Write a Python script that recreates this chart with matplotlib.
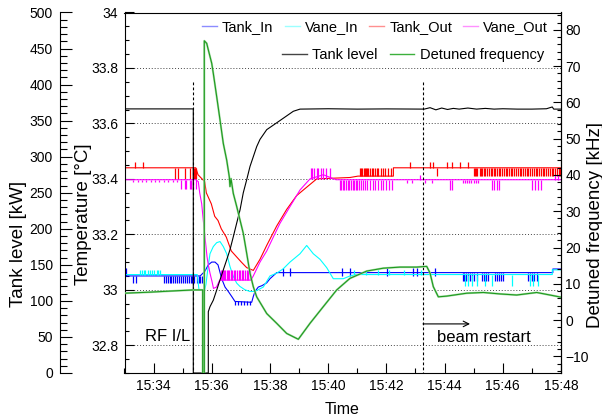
import matplotlib
matplotlib.use("Agg")
import matplotlib.pyplot as plt
from matplotlib.lines import Line2D
from matplotlib.ticker import MultipleLocator, FuncFormatter

# ========= CONFIG
plt.rcParams.update({
    "font.family": ["Liberation Sans", "DejaVu Sans"],
    "font.size": 10,
    "axes.linewidth": 0.8,
})

# ========= DATA (time = minutes after 15:00)

# Tank level [kW]
tank_level_t = [33.0, 35.364, 35.364, 35.880, 35.880, 35.938, 36.052, 36.168, 36.282, 36.395,
                36.512, 36.625, 36.739, 36.856, 36.969, 37.082, 37.199, 37.313, 37.426, 37.543,
                37.656, 37.887, 38.230, 38.801, 39.031, 40.0, 41.0, 42.0, 43.3, 43.5,
                43.7, 43.9, 44.1, 44.3, 44.5, 44.8, 45.1, 45.4, 45.7, 46.0,
                46.5, 47.0, 47.5, 47.7, 47.75, 47.8, 48.0]
tank_level_v = [366.3, 366.3, 0, 0, 85, 92, 101, 115, 129, 143,
                157, 171, 189, 208, 226, 250, 268, 286.5, 300, 314,
                324, 337.5, 347, 363, 366, 366.5, 366, 366.3, 366, 368,
                365, 367.5, 365.5, 367, 366, 367.5, 366, 367, 366, 366.5,
                366, 366, 366.5, 369, 366, 366, 366]

# Detuned frequency [kHz]
detuned_t = [33.0, 33.9, 34.6, 35.364, 35.687, 35.687, 35.742, 35.742, 35.825, 35.880,
             35.997, 36.052, 36.168, 36.282, 36.395, 36.512, 36.601, 36.625, 36.660, 36.739,
             36.856, 36.969, 37.082, 37.199, 37.313, 37.426, 37.543, 37.887, 38.230, 38.574,
             38.973, 39.375, 39.832, 40.292, 40.749, 41.323, 41.893, 42.467, 43.041, 43.385,
             43.498, 43.612, 43.784, 44.072, 44.759, 45.330, 45.904, 46.478, 47.165, 47.622,
             48.0]
detuned_v = [7.4, 7.7, 8.0, 8.3, 8.3, -20, -20, 77, 76.3, 74.5,
             70.8, 68, 61.6, 55.2, 48.7, 44.1, 39.5, 36.8, 39.0, 34.9,
             31.3, 27.6, 23.9, 18.4, 12.9, 9.2, 6.4, 1.8, -0.9, -3.7,
             -5.3, -0.9, 3.7, 8.3, 11.5, 13.5, 14.3, 14.6, 14.6, 14.8,
             13.0, 9.2, 6.4, 6.6, 7.4, 7.6, 7.2, 6.9, 7.6, 6.9,
             6.3]

# Temperatures [degC]
tank_in_t = [33.0, 35.6, 35.756, 35.880, 35.997, 36.110, 36.213, 36.340, 36.454, 36.567,
             36.684, 36.797, 37.371, 37.426, 37.485, 37.598, 37.725, 37.887, 38.0, 38.23,
             47.72, 47.72, 48.0]
tank_in_v = [33.05, 33.05, 33.066, 33.09, 33.10, 33.10, 33.09, 33.04, 33.01, 32.994,
             32.976, 32.958, 32.955, 32.976, 32.994, 33.01, 33.015, 33.025, 33.04, 33.062,
             33.062, 33.075, 33.075]

vane_in_t = [33.0, 35.50, 35.56, 35.756, 35.80, 35.869, 35.938, 36.052, 36.168, 36.282,
             36.395, 36.512, 36.625, 36.739, 36.856, 36.969, 37.141, 37.313, 37.485, 37.770,
             38.0, 38.230, 38.447, 38.687, 39.031, 39.261, 39.488, 39.718, 39.948, 40.175,
             40.519, 40.749, 40.955, 47.70, 47.70, 48.0]
vane_in_v = [33.055, 33.055, 33.0, 33.0, 33.02, 33.08, 33.13, 33.156, 33.17, 33.174,
             33.156, 33.13, 33.084, 33.048, 33.024, 33.012, 33.0, 32.994, 32.994, 33.01,
             33.05, 33.06, 33.075, 33.10, 33.13, 33.16, 33.13, 33.11, 33.08, 33.04,
             33.04, 33.05, 33.055, 33.055, 33.072, 33.072]

tank_out_t = [33.0, 35.45, 35.526, 35.756, 35.811, 35.983, 36.100, 36.213, 36.326, 36.498,
              36.670, 36.842, 37.014, 37.199, 37.426, 37.656, 37.887, 38.230, 38.574, 38.918,
              39.261, 39.605, 40.749, 41.024, 42.24, 42.24, 48.0]
tank_out_v = [33.44, 33.44, 33.415, 33.39, 33.35, 33.31, 33.265, 33.25, 33.22, 33.19,
              33.14, 33.12, 33.10, 33.08, 33.07, 33.11, 33.16, 33.23, 33.29, 33.34,
              33.37, 33.40, 33.405, 33.41, 33.41, 33.44, 33.44]

vane_out_t = [33.0, 35.45, 35.536, 35.584, 35.653, 35.708, 35.766, 35.835, 35.880, 35.938,
              36.007, 36.058, 36.162, 36.271, 37.347, 37.426, 37.656, 37.887, 38.113, 38.344,
              38.687, 39.031, 39.375, 39.832, 40.268, 48.0]
vane_out_v = [33.397, 33.397, 33.39, 33.35, 33.31, 33.25, 33.19, 33.12, 33.09, 33.06,
              33.03, 33.005, 33.01, 33.035, 33.035, 33.05, 33.10, 33.14, 33.19, 33.24,
              33.30, 33.36, 33.40, 33.415, 33.397, 33.397]

# single-sample glitches of the sensors: (times, low value, high value)
tank_in_spikes = [
    ([33.01, 33.06, 38.45, 38.69, 40.46, 40.75, 42.01, 42.91, 43.04, 43.67], 33.05, 33.08),
    ([33.29, 33.40, 34.35, 34.42, 34.48, 34.55, 34.60, 34.68, 34.75, 34.80, 34.88, 34.95,
      35.02, 35.08, 35.15, 35.20, 35.27, 35.33, 35.40, 35.48, 35.55, 35.60, 35.65], 33.025, 33.05),
    ([44.63, 44.68, 44.75, 44.80, 44.88, 44.95, 45.02, 45.10, 45.28, 45.35, 45.43, 45.50,
      45.73, 45.80, 45.88, 45.95, 46.00, 46.87, 46.93, 47.00, 47.08, 47.17], 33.03, 33.062),
    ([36.80, 36.90, 37.00, 37.10, 37.20, 37.30], 32.946, 32.958),
]
vane_in_spikes = [
    ([33.53, 33.60, 33.66, 33.72, 33.80, 33.88, 33.95, 34.02, 34.10, 34.16, 34.22,
      40.90, 41.30, 41.70, 42.10, 42.60, 43.20], 33.055, 33.072),
    ([44.70, 44.82, 44.95, 45.10, 45.40, 45.62, 46.30, 46.95, 47.05, 47.20], 33.012, 33.055),
]
tank_out_spikes = [
    ([33.36, 33.64, 42.81, 43.50, 43.60, 44.07, 44.24, 44.53, 44.82], 33.44, 33.46),
    ([34.73, 34.84, 35.07, 35.24, 35.35, 35.37, 35.40, 35.42, 35.44], 33.40, 33.44),
    ([41.10, 41.14, 41.17, 41.22, 41.26, 41.30, 41.34, 41.38, 41.45, 41.50, 41.55, 41.61,
      41.66, 41.72, 41.80, 41.88, 41.95, 42.05, 42.15], 33.41, 33.44),
    ([43.73, 45.00, 45.04, 45.09, 45.13, 45.20, 45.24, 45.29, 45.36, 45.40, 45.47, 45.52,
      45.58, 45.63, 45.70, 45.74, 45.80, 45.86, 45.92, 45.97, 46.05, 46.10, 46.15, 46.22,
      46.27, 46.33, 46.40, 46.45, 46.51, 46.58, 46.63, 46.70, 46.76, 46.82, 46.88, 46.95,
      47.00, 47.06, 47.13, 47.18, 47.25, 47.30, 47.37, 47.43, 47.49, 47.55, 47.62, 47.68,
      47.74, 47.80, 47.86, 47.92, 47.97], 33.41, 33.44),
]
vane_out_spikes = [
    ([33.30, 33.45, 33.60, 33.75, 33.90, 34.05, 34.20, 34.35, 34.50, 34.65, 34.80], 33.388, 33.397),
    ([34.95, 35.07, 35.12, 35.24, 35.29, 35.37, 35.46], 33.364, 33.397),
    ([36.30, 36.34, 36.38, 36.43, 36.47, 36.52, 36.56, 36.60, 36.66, 36.70, 36.75, 36.80,
      36.86, 36.92, 36.97, 37.03, 37.08, 37.14, 37.20, 37.25, 37.30], 33.035, 33.07),
    ([39.40, 39.46, 39.52, 39.60, 39.66, 39.75, 39.83, 39.92, 40.05], 33.40, 33.44),
    ([40.40, 40.45, 40.50, 40.55, 40.62, 40.68, 40.73, 40.78, 40.85, 40.90, 40.95, 41.00,
      41.05, 41.12, 41.20, 41.28, 41.35, 41.45, 41.55, 41.62, 41.70, 41.80, 41.90, 42.00,
      42.10, 42.20, 44.19, 44.25, 45.62, 45.70, 45.80, 45.88, 46.99, 47.10, 47.20, 47.30],
     33.36, 33.397),
    ([42.70, 42.87, 43.33, 43.56, 44.63, 44.70, 44.78, 44.85, 44.92, 45.00, 45.08, 45.15],
     33.385, 33.397),
    ([43.15, 47.79, 47.90], 33.397, 33.415),
]

# events
rf_trip_t = 35.354
beam_restart_t = 43.258

# ========= FIGURE
fig = plt.figure(figsize=(6.02, 4.2), dpi=100)
ax = fig.add_axes([124.5 / 602, 47 / 420, 436.5 / 602, 360.5 / 420])
axt = ax.twinx()   # tank level, extra axis on the left
axr = ax.twinx()   # detuned frequency on the right

ax.set_xlim(33, 48)
ax.set_ylim(32.7, 34.0)
axt.set_ylim(0, 500)
axr.set_ylim(-14.6, 84.8)

lw = 0.8
series = [
    (tank_in_t, tank_in_v, tank_in_spikes, "#0000ff"),
    (vane_in_t, vane_in_v, vane_in_spikes, "#00ffff"),
    (tank_out_t, tank_out_v, tank_out_spikes, "#ff0000"),
    (vane_out_t, vane_out_v, vane_out_spikes, "#ff00ff"),
]
for t, v, spikes, col in series:
    ax.plot(t, v, color=col, lw=lw)
    for st, lo, hi in spikes:
        ax.vlines(st, lo, hi, colors=col, lw=0.9)

axt.plot(tank_level_t, tank_level_v, color="black", lw=lw)
axr.plot(detuned_t, detuned_v, color="#a6dca6", lw=1.5)
axr.plot(detuned_t, detuned_v, color="#1f9a1f", lw=lw)

# grid
ax.grid(axis="y", which="major", ls=(0, (1, 2)), color="#444444", lw=0.7)

# events
ax.plot([rf_trip_t, rf_trip_t], [33.75, 32.7], color="black", lw=0.8, ls=(0, (2.5, 2)))
ax.plot([beam_restart_t, beam_restart_t], [33.75, 32.7], color="black", lw=0.8, ls=(0, (2.5, 2)))
ax.annotate("", xy=(44.873, 32.877), xytext=(beam_restart_t, 32.877),
            arrowprops=dict(arrowstyle="->", color="black", lw=0.8, shrinkA=0, shrinkB=0))
ax.text(33.704, 32.83, "RF I/L", fontsize=12, va="center", ha="left")
ax.text(43.739, 32.827, "beam restart", fontsize=12, va="center", ha="left")

# ========= AXES STYLE
ax.xaxis.set_major_locator(MultipleLocator(2))
ax.xaxis.set_minor_locator(MultipleLocator(1))
ax.xaxis.set_major_formatter(FuncFormatter(lambda v, p: f"15:{int(round(v)):02d}"))
ax.yaxis.set_major_locator(MultipleLocator(0.2))
ax.yaxis.set_minor_locator(MultipleLocator(0.05))
ax.yaxis.set_major_formatter(FuncFormatter(lambda v, p: f"{v:g}"))
ax.tick_params(axis="x", which="major", direction="in", length=7.2, width=0.8, labelsize=10, pad=4)
ax.tick_params(axis="x", which="minor", direction="in", length=3.6, width=0.8)
ax.tick_params(axis="y", which="major", direction="in", length=6.5, width=0.8, labelsize=10, pad=4.5,
               right=False)
ax.tick_params(axis="y", which="minor", direction="in", length=3.2, width=0.8, right=False)
ax.tick_params(top=False)

for s in ["right", "top", "bottom"]:
    axt.spines[s].set_visible(False)
axt.spines["left"].set_visible(True)
axt.spines["left"].set_position(("axes", -64.5 / 436.5))
axt.yaxis.tick_left()
axt.yaxis.set_major_locator(MultipleLocator(50))
axt.yaxis.set_minor_locator(MultipleLocator(10))
axt.tick_params(axis="y", which="major", direction="in", length=8.6, width=0.8, labelsize=10, pad=5)
axt.tick_params(axis="y", which="minor", direction="in", length=4.7, width=0.8)

for s in ["left", "top", "bottom"]:
    axr.spines[s].set_visible(False)
axr.yaxis.set_major_locator(MultipleLocator(10))
axr.yaxis.set_minor_locator(MultipleLocator(2))
axr.yaxis.set_major_formatter(FuncFormatter(lambda v, p: f"{v:g}".replace("-", "\u2212")))
axr.tick_params(axis="y", which="major", direction="in", length=5.8, width=0.8, labelsize=10, pad=3)
axr.tick_params(axis="y", which="minor", direction="in", length=3.2, width=0.8)

# axis titles
fig.text(342 / 602, 1 - 410 / 420, "Time", fontsize=11.5, ha="center", va="center")
fig.text(19 / 602, 1 - 244 / 420, "Tank level [kW]", fontsize=13.5, rotation=90, ha="center", va="center")
fig.text(84 / 602, 1 - 214 / 420, "Temperature [°C]", fontsize=13.5, rotation=90, ha="center", va="center")
fig.text(595 / 602, 1 - 225 / 420, "Detuned frequency [kHz]", fontsize=13.5, rotation=90,
         ha="center", va="center")

# ========= LEGEND
row1 = [Line2D([], [], color="#8c8cff", lw=1), Line2D([], [], color="#9cffff", lw=1),
        Line2D([], [], color="#ff9090", lw=1), Line2D([], [], color="#ff90ff", lw=1)]
row2 = [Line2D([], [], color="#444444", lw=1), Line2D([], [], color="#3cb03c", lw=1)]
leg1 = axr.legend(row1, ["Tank_In", "Vane_In", "Tank_Out", "Vane_Out"], ncol=4,
                  loc="center left", bbox_to_anchor=(202 / 602, 1 - 27 / 420),
                  bbox_transform=fig.transFigure, frameon=False, fontsize=10.5,
                  handlelength=1.03, handletextpad=0.35, columnspacing=0.76,
                  borderpad=0, borderaxespad=0)
axr.add_artist(leg1)
axr.legend(row2, ["Tank level", "Detuned frequency"], ncol=2,
           loc="center left", bbox_to_anchor=(282 / 602, 1 - 55 / 420),
           bbox_transform=fig.transFigure, frameon=False, fontsize=10.5,
           handlelength=1.71, handletextpad=0.35, columnspacing=0.82,
           borderpad=0, borderaxespad=0)

fig.savefig("out.png", dpi=100)
